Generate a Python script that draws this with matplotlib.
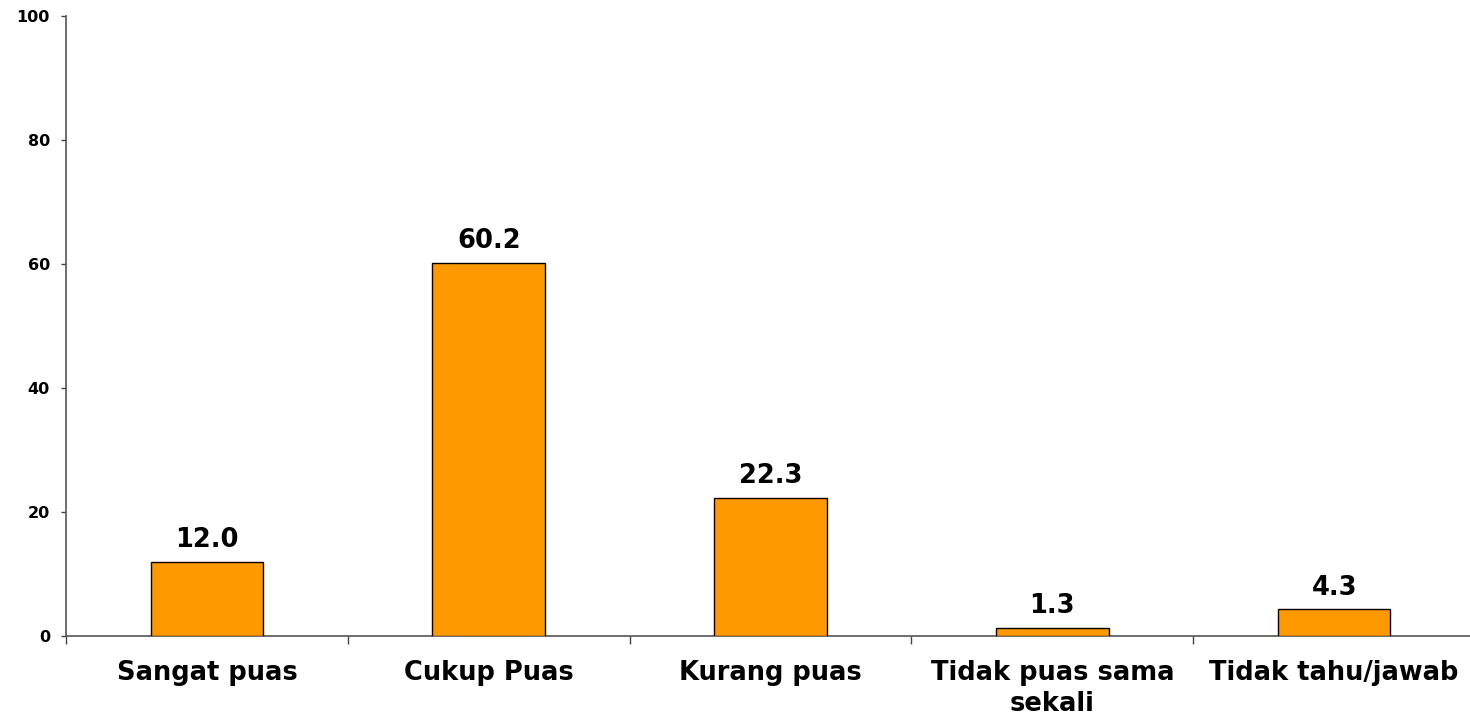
import matplotlib
matplotlib.use("Agg")
import matplotlib.pyplot as plt
from matplotlib.ticker import FixedLocator, NullFormatter

categories = ["Sangat puas", "Cukup Puas", "Kurang puas", "Tidak puas sama\nsekali", "Tidak tahu/jawab"]
values = [12.0, 60.2, 22.3, 1.3, 4.3]
y_ticks = [0, 20, 40, 60, 80, 100]

plt.rcParams['font.family'] = ['DejaVu Sans']
plt.rcParams['font.weight'] = 'bold'

fig = plt.figure(figsize=(14.7, 7.16), dpi=100)
ax = fig.add_axes([66 / 1470, 1 - 636 / 716, 1409 / 1470, 620 / 716])

x = list(range(len(categories)))
ax.bar(x, values, width=0.4, color="#FF9900", edgecolor="black", linewidth=1.0, zorder=3)

for xi, v in zip(x, values):
    ax.annotate(f"{v:.1f}", (xi, v), xytext=(0, 10.5), textcoords="offset points",
                ha="center", va="baseline", fontsize=18.5, fontweight="bold")

ax.set_xlim(-0.5, len(categories) - 0.5)
ax.set_ylim(0, 100)
ax.set_yticks(y_ticks)
ax.set_yticklabels([str(t) for t in y_ticks], fontsize=11.5, fontweight="bold")

ax.set_xticks(x)
ax.set_xticklabels(categories, fontsize=18.5, fontweight="bold", linespacing=1.25)
ax.tick_params(axis="x", which="major", length=0, pad=17)
ax.xaxis.set_minor_locator(FixedLocator([i - 0.5 for i in range(len(categories) + 1)]))
ax.xaxis.set_minor_formatter(NullFormatter())
ax.tick_params(axis="x", which="minor", length=6, width=1, color="#444444", direction="out")
ax.tick_params(axis="y", length=3.6, width=1, color="#444444", direction="out", pad=8)

for s in ["top", "right"]:
    ax.spines[s].set_visible(False)
for s in ["left", "bottom"]:
    ax.spines[s].set_color("#555555")
    ax.spines[s].set_linewidth(1.2)

fig.savefig("out.png", dpi=100, facecolor="white")
